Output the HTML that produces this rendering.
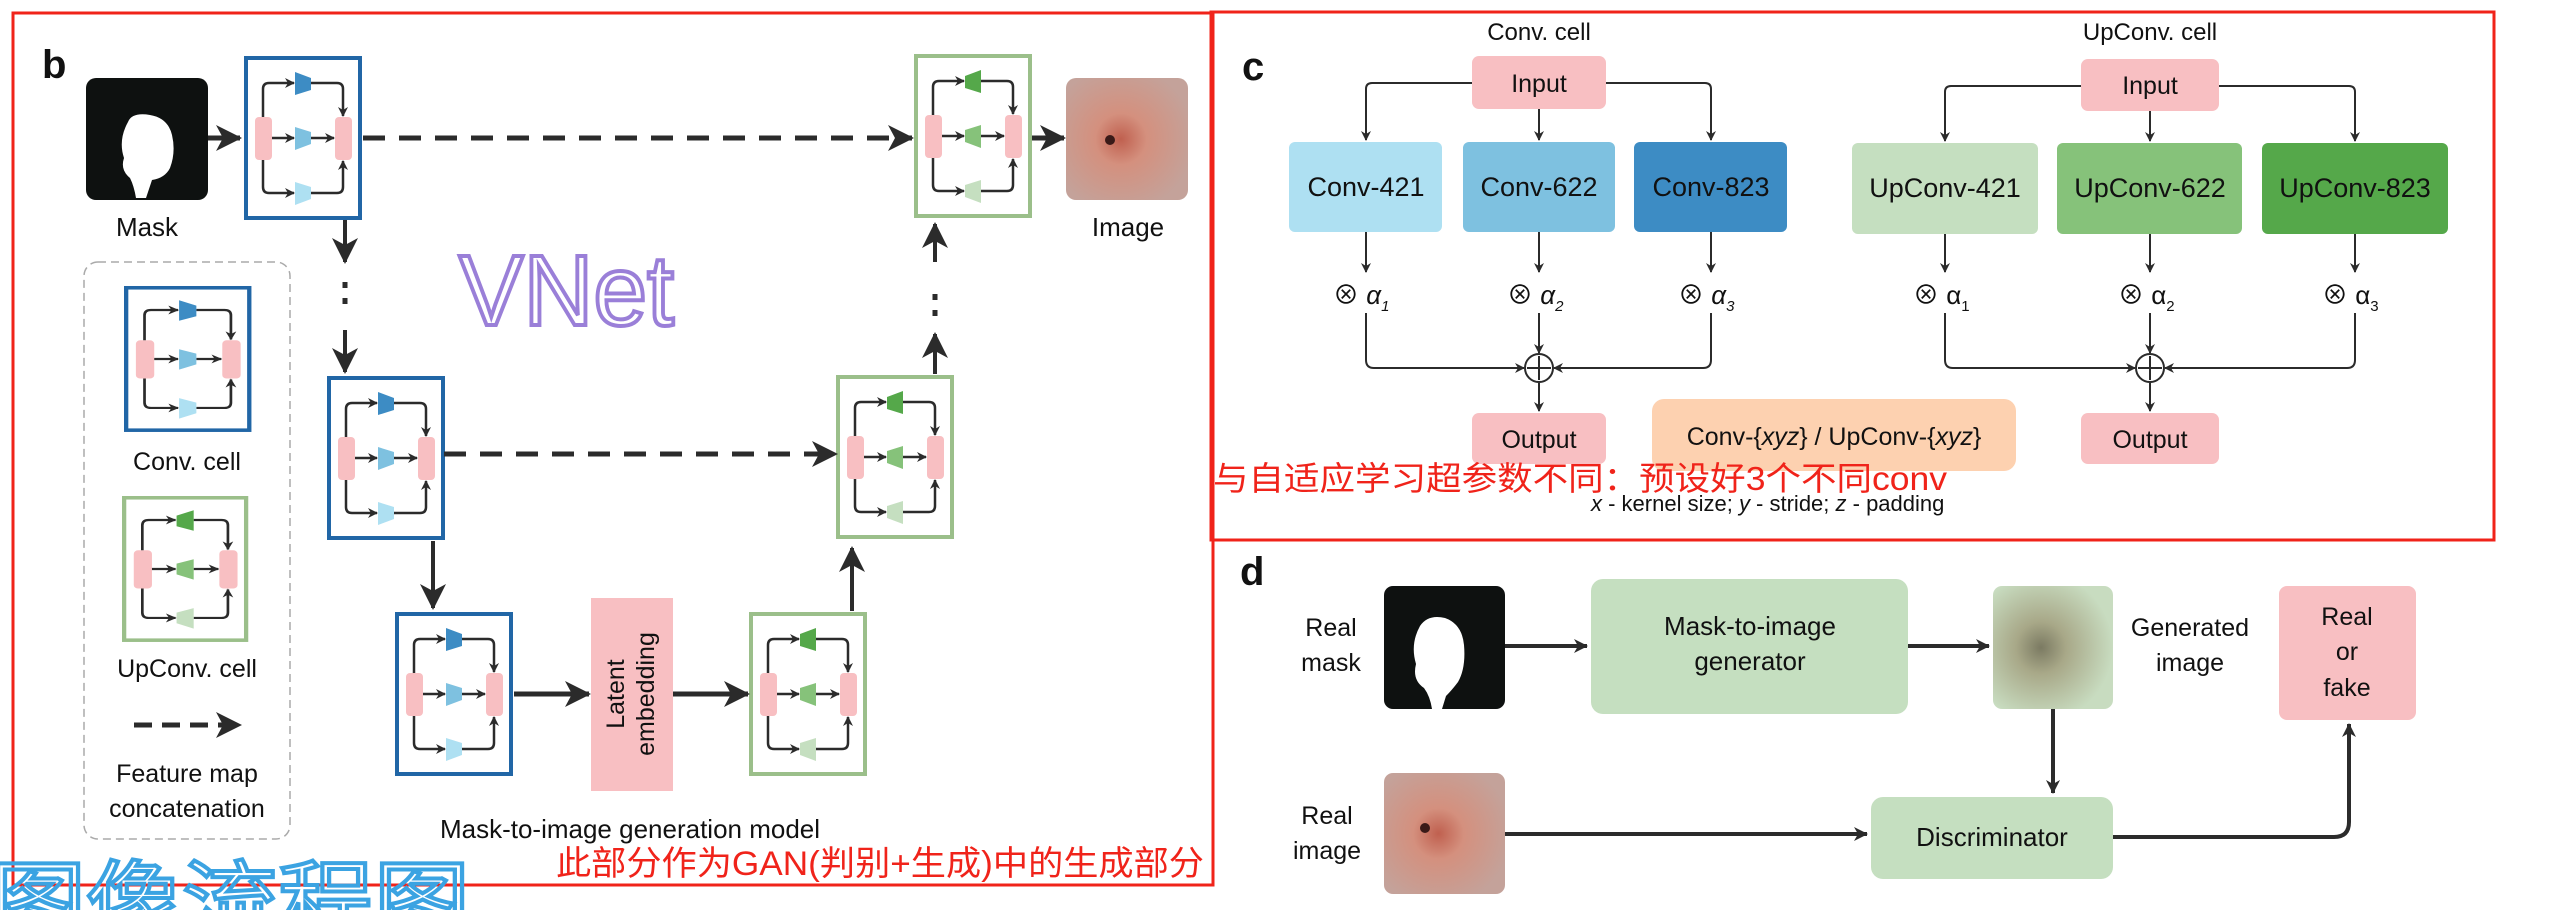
<!DOCTYPE html>
<html><head><meta charset="utf-8"><style>
html,body{margin:0;padding:0;background:#fff;}
svg{display:block;}
text{font-family:"Liberation Sans","Noto Sans CJK SC",sans-serif;fill:#111;}
</style></head><body>
<svg width="2554" height="910" viewBox="0 0 2554 910" xmlns="http://www.w3.org/2000/svg">
<defs>
<marker id="ah" markerWidth="10" markerHeight="10" refX="9" refY="5" orient="auto" markerUnits="userSpaceOnUse"><path d="M0,0 L10,5 L0,10 L3,5 Z" fill="#2b2b2b"/></marker>
<marker id="ahb" markerWidth="26" markerHeight="26" refX="24" refY="13" orient="auto" markerUnits="userSpaceOnUse"><path d="M0,0 L26,13 L0,26 L7,13 Z" fill="#2b2b2b"/></marker>
<marker id="ahm" markerWidth="14" markerHeight="14" refX="13" refY="7" orient="auto" markerUnits="userSpaceOnUse"><path d="M0,0 L14,7 L0,14 L4,7 Z" fill="#2b2b2b"/></marker>
<radialGradient id="skin" cx="0.45" cy="0.5" r="0.6"><stop offset="0" stop-color="#c0604f"/><stop offset="0.35" stop-color="#d4907e"/><stop offset="1" stop-color="#c4a29a"/></radialGradient>
<radialGradient id="gen" cx="0.4" cy="0.5" r="0.6"><stop offset="0" stop-color="#7b7a62"/><stop offset="0.35" stop-color="#a8a888"/><stop offset="1" stop-color="#c8dcc0"/></radialGradient>
<g id="inner">
  <rect x="11" y="61" width="17" height="43" rx="4" fill="#f8bfc2"/>
  <rect x="91" y="61" width="17" height="43" rx="4" fill="#f8bfc2"/>
  <g fill="none" stroke="#2b2b2b" stroke-width="2.5">
    <path d="M19,61 V33 Q19,27 25,27 H50" marker-end="url(#ah)"/>
    <path d="M67,27 H93 Q99,27 99,33 V60" marker-end="url(#ah)"/>
    <path d="M19,104 V131 Q19,137 25,137 H50" marker-end="url(#ah)"/>
    <path d="M67,137 H93 Q99,137 99,131 V105" marker-end="url(#ah)"/>
    <path d="M28,82 H50" marker-end="url(#ah)"/>
    <path d="M67,82 H90" marker-end="url(#ah)"/>
  </g>
</g>
<g id="conv">
  <rect x="2" y="2" width="114" height="160" fill="#fff" stroke="#2166a6" stroke-width="4"/>
  <use href="#inner"/>
  <path d="M51,16 L67,22 L67,34 L51,39 Z" fill="#3d8cc4"/>
  <path d="M51,71 L67,76 L67,88 L51,94 Z" fill="#7ec1e0"/>
  <path d="M51,126 L67,131 L67,143 L51,149 Z" fill="#aee0f2"/>
</g>
<g id="up">
  <rect x="2" y="2" width="114" height="160" fill="#fff" stroke="#9bbf8a" stroke-width="4"/>
  <use href="#inner"/>
  <path d="M51,22 L67,16 L67,39 L51,34 Z" fill="#55a84a"/>
  <path d="M51,76 L67,71 L67,94 L51,88 Z" fill="#86c27a"/>
  <path d="M51,131 L67,126 L67,149 L51,143 Z" fill="#c5dfc0"/>
</g>
</defs>

<rect x="13" y="13" width="1200" height="872" fill="none" stroke="#f0231a" stroke-width="3"/>
<rect x="1211" y="12" width="1283" height="528" fill="none" stroke="#f0231a" stroke-width="3"/>

<!-- panel b -->
<text x="42" y="78" font-size="40" font-weight="bold">b</text>
<rect x="86" y="78" width="122" height="122" rx="10" fill="#0e1110"/>
<path d="M128,122 Q132,112 150,115 Q168,118 172,135 Q176,152 170,168 Q165,178 152,180 L146,198 L136,198 Q134,186 130,178 Q120,170 124,158 Q118,140 128,122 Z" fill="#fff"/>
<text x="147" y="236" font-size="26" text-anchor="middle">Mask</text>
<rect x="1066" y="78" width="122" height="122" rx="10" fill="url(#skin)"/>
<circle cx="1110" cy="140" r="5" fill="#3a1a18"/>
<text x="1128" y="236" font-size="26" text-anchor="middle">Image</text>

<use href="#conv" x="244" y="56"/>
<use href="#conv" x="327" y="376"/>
<use href="#conv" x="395" y="612"/>
<use href="#up" x="914" y="54"/>
<use href="#up" x="836" y="375"/>
<use href="#up" x="749" y="612"/>
<use href="#conv" transform="translate(124,286) scale(1.08,0.89)"/>
<use href="#up" transform="translate(122,496) scale(1.07,0.89)"/>

<g stroke="#2b2b2b" stroke-width="5" fill="none">
  <path d="M208,138 H240" marker-end="url(#ahb)"/>
  <path d="M363,138 H912" stroke-dasharray="22,14" marker-end="url(#ahb)"/>
  <path d="M1032,138 H1064" marker-end="url(#ahb)"/>
  <path d="M345,220 V262" stroke-width="4" marker-end="url(#ahb)"/>
  <path d="M345,282 V314" stroke-width="5" stroke-dasharray="6,10"/>
  <path d="M345,330 V372" stroke-width="4" marker-end="url(#ahb)"/>
  <path d="M444,454 H836" stroke-dasharray="22,14" marker-end="url(#ahb)"/>
  <path d="M935,374 V334" stroke-width="4" marker-end="url(#ahb)"/>
  <path d="M935,316 V284" stroke-width="5" stroke-dasharray="6,10"/>
  <path d="M935,262 V224" stroke-width="4" marker-end="url(#ahb)"/>
  <path d="M433,541 V608" stroke-width="4" marker-end="url(#ahb)"/>
  <path d="M514,694 H589" marker-end="url(#ahb)"/>
  <path d="M673,694 H748" marker-end="url(#ahb)"/>
  <path d="M852,611 V548" stroke-width="4" marker-end="url(#ahb)"/>
  <path d="M134,725 H240" stroke-dasharray="18,10" marker-end="url(#ahb)"/>
</g>
<rect x="591" y="598" width="82" height="193" fill="#f8bfc2"/>
<text transform="translate(624,694) rotate(-90)" font-size="25" text-anchor="middle">Latent</text>
<text transform="translate(654,694) rotate(-90)" font-size="25" text-anchor="middle">embedding</text>

<rect x="84" y="262" width="206" height="577" rx="14" fill="none" stroke="#aaa" stroke-width="1.5" stroke-dasharray="8,5"/>
<text x="187" y="470" font-size="25" text-anchor="middle">Conv. cell</text>
<text x="187" y="677" font-size="25" text-anchor="middle">UpConv. cell</text>
<text x="187" y="782" font-size="25" text-anchor="middle">Feature map</text>
<text x="187" y="817" font-size="25" text-anchor="middle">concatenation</text>
<text x="630" y="838" font-size="26" text-anchor="middle">Mask-to-image generation model</text>
<text x="556" y="875" font-size="34" style="fill:#f0231a" textLength="648" lengthAdjust="spacingAndGlyphs">此部分作为GAN(判别+生成)中的生成部分</text>
<text x="459" y="325" font-size="100" style="fill:none;stroke:#9a7fd8;stroke-width:4" textLength="215" lengthAdjust="spacingAndGlyphs">VNet</text>
<text x="-10" y="935" font-size="90" style="fill:none;stroke:#3ba3e2;stroke-width:4" textLength="480" lengthAdjust="spacingAndGlyphs">图像流程图</text>

<!-- panel c -->
<text x="1242" y="80" font-size="40" font-weight="bold">c</text>
<text x="1539" y="40" font-size="24" text-anchor="middle">Conv. cell</text>
<text x="2150" y="40" font-size="24" text-anchor="middle">UpConv. cell</text>
<g stroke="#2b2b2b" stroke-width="2" fill="none">
  <path d="M1472,83 H1372 Q1366,83 1366,89 V140" marker-end="url(#ah)"/>
  <path d="M1606,83 H1705 Q1711,83 1711,89 V140" marker-end="url(#ah)"/>
  <path d="M1539,109 V140" marker-end="url(#ah)"/>
  <path d="M1366,232 V272" marker-end="url(#ah)"/>
  <path d="M1539,232 V272" marker-end="url(#ah)"/>
  <path d="M1711,232 V272" marker-end="url(#ah)"/>
  <path d="M1366,313 V360 Q1366,368 1374,368 H1524" marker-end="url(#ah)"/>
  <path d="M1711,313 V360 Q1711,368 1703,368 H1554" marker-end="url(#ah)"/>
  <path d="M1539,313 V353" marker-end="url(#ah)"/>
  <path d="M1539,383 V411" marker-end="url(#ah)"/>
  <circle cx="1539" cy="368" r="14"/>
  <path d="M1527,368 H1551 M1539,356 V380"/>
  <path d="M2081,86 H1951 Q1945,86 1945,92 V141" marker-end="url(#ah)"/>
  <path d="M2219,86 H2349 Q2355,86 2355,92 V141" marker-end="url(#ah)"/>
  <path d="M2150,111 V141" marker-end="url(#ah)"/>
  <path d="M1945,234 V272" marker-end="url(#ah)"/>
  <path d="M2150,234 V272" marker-end="url(#ah)"/>
  <path d="M2355,234 V272" marker-end="url(#ah)"/>
  <path d="M1945,313 V360 Q1945,368 1953,368 H2135" marker-end="url(#ah)"/>
  <path d="M2355,313 V360 Q2355,368 2347,368 H2165" marker-end="url(#ah)"/>
  <path d="M2150,313 V353" marker-end="url(#ah)"/>
  <path d="M2150,383 V411" marker-end="url(#ah)"/>
  <circle cx="2150" cy="368" r="14"/>
  <path d="M2138,368 H2162 M2150,356 V380"/>
</g>
<rect x="1472" y="56" width="134" height="53" rx="7" fill="#f8bfc2"/>
<text x="1539" y="92" font-size="25" text-anchor="middle">Input</text>
<rect x="1289" y="142" width="153" height="90" rx="6" fill="#aee0f2"/>
<rect x="1463" y="142" width="152" height="90" rx="6" fill="#7ec1e0"/>
<rect x="1634" y="142" width="153" height="90" rx="6" fill="#3d8cc4"/>
<text x="1366" y="196" font-size="27" text-anchor="middle">Conv-421</text>
<text x="1539" y="196" font-size="27" text-anchor="middle">Conv-622</text>
<text x="1711" y="196" font-size="27" text-anchor="middle">Conv-823</text>
<g font-size="26">
<text x="1333" y="304">⊗ <tspan font-style="italic">α</tspan><tspan font-size="15" dy="7" font-style="italic">1</tspan></text>
<text x="1507" y="304">⊗ <tspan font-style="italic">α</tspan><tspan font-size="15" dy="7" font-style="italic">2</tspan></text>
<text x="1678" y="304">⊗ <tspan font-style="italic">α</tspan><tspan font-size="15" dy="7" font-style="italic">3</tspan></text>
<text x="1913" y="304">⊗ α<tspan font-size="15" dy="7">1</tspan></text>
<text x="2118" y="304">⊗ α<tspan font-size="15" dy="7">2</tspan></text>
<text x="2322" y="304">⊗ α<tspan font-size="15" dy="7">3</tspan></text>
</g>
<rect x="1472" y="413" width="134" height="51" rx="7" fill="#f8bfc2"/>
<text x="1539" y="448" font-size="25" text-anchor="middle">Output</text>
<rect x="1652" y="399" width="364" height="72" rx="12" fill="#fdd1b0"/>
<text x="1834" y="445" font-size="25" text-anchor="middle">Conv-{<tspan font-style="italic">xyz</tspan>} / UpConv-{<tspan font-style="italic">xyz</tspan>}</text>
<rect x="2081" y="59" width="138" height="52" rx="7" fill="#f8bfc2"/>
<text x="2150" y="94" font-size="25" text-anchor="middle">Input</text>
<rect x="1852" y="143" width="186" height="91" rx="6" fill="#c5dfc0"/>
<rect x="2057" y="143" width="185" height="91" rx="6" fill="#86c27a"/>
<rect x="2262" y="143" width="186" height="91" rx="6" fill="#55a84a"/>
<text x="1945" y="197" font-size="27" text-anchor="middle">UpConv-421</text>
<text x="2150" y="197" font-size="27" text-anchor="middle">UpConv-622</text>
<text x="2355" y="197" font-size="27" text-anchor="middle">UpConv-823</text>
<rect x="2081" y="413" width="138" height="51" rx="7" fill="#f8bfc2"/>
<text x="2150" y="448" font-size="25" text-anchor="middle">Output</text>
<text x="1213" y="490" font-size="33" style="fill:#f0231a" textLength="734" lengthAdjust="spacingAndGlyphs">与自适应学习超参数不同：预设好3个不同conv</text>
<text x="1591" y="511" font-size="22"><tspan font-style="italic">x</tspan> - kernel size; <tspan font-style="italic">y</tspan> - stride; <tspan font-style="italic">z</tspan> - padding</text>

<!-- panel d -->
<text x="1240" y="585" font-size="40" font-weight="bold">d</text>
<text x="1331" y="636" font-size="25" text-anchor="middle">Real</text>
<text x="1331" y="671" font-size="25" text-anchor="middle">mask</text>
<rect x="1384" y="586" width="121" height="123" rx="9" fill="#0e1110"/>
<path d="M1420,626 Q1428,614 1445,618 Q1462,624 1464,645 Q1466,668 1458,682 Q1452,690 1446,696 L1442,709 L1432,709 Q1430,696 1424,688 Q1412,680 1416,664 Q1410,644 1420,626 Z" fill="#fff"/>
<rect x="1591" y="579" width="317" height="135" rx="12" fill="#c5dfc0"/>
<text x="1750" y="635" font-size="26" text-anchor="middle">Mask-to-image</text>
<text x="1750" y="670" font-size="26" text-anchor="middle">generator</text>
<rect x="1993" y="586" width="120" height="123" rx="9" fill="url(#gen)"/>
<text x="2190" y="636" font-size="25" text-anchor="middle">Generated</text>
<text x="2190" y="671" font-size="25" text-anchor="middle">image</text>
<rect x="2279" y="586" width="137" height="134" rx="8" fill="#f8bfc2"/>
<text x="2347" y="625" font-size="25" text-anchor="middle">Real</text>
<text x="2347" y="660" font-size="25" text-anchor="middle">or</text>
<text x="2347" y="696" font-size="25" text-anchor="middle">fake</text>
<text x="1327" y="824" font-size="25" text-anchor="middle">Real</text>
<text x="1327" y="859" font-size="25" text-anchor="middle">image</text>
<rect x="1384" y="773" width="121" height="121" rx="9" fill="url(#skin)"/>
<circle cx="1425" cy="828" r="5" fill="#3a1a18"/>
<rect x="1871" y="797" width="242" height="82" rx="12" fill="#c5dfc0"/>
<text x="1992" y="846" font-size="26" text-anchor="middle">Discriminator</text>
<g stroke="#2b2b2b" stroke-width="4" fill="none">
  <path d="M1505,646 H1587" marker-end="url(#ahm)"/>
  <path d="M1908,646 H1989" marker-end="url(#ahm)"/>
  <path d="M2053,709 V793" marker-end="url(#ahm)"/>
  <path d="M1505,834 H1867" marker-end="url(#ahm)"/>
  <path d="M2113,837 H2334 Q2349,837 2349,822 V724" marker-end="url(#ahm)"/>
</g>
</svg>
</body></html>
